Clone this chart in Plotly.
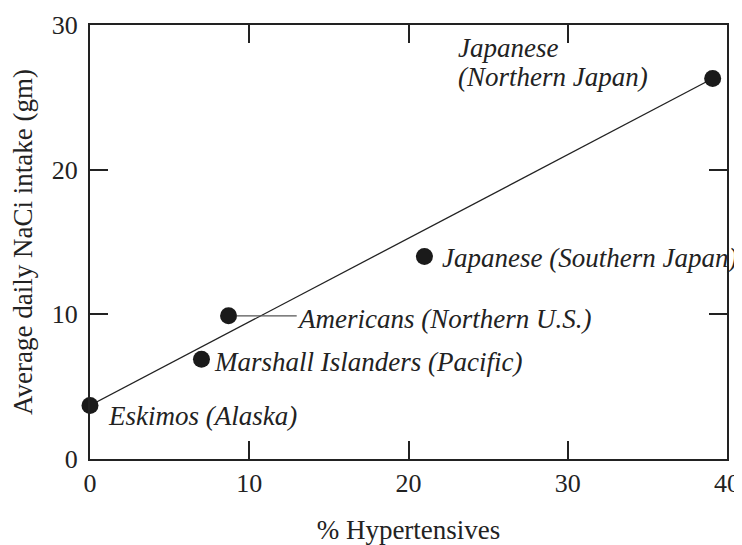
import plotly.graph_objects as go

# Data
groups = ["Eskimos (Alaska)", "Marshall Islanders (Pacific)", "Americans (Northern U.S.)",
          "Japanese (Southern Japan)", "Japanese<br>(Northern Japan)"]
pct_hypertensive = [0.0, 7.0, 8.7, 21.0, 39.1]
salt_intake = [3.7, 6.9, 9.9, 14.0, 26.3]

fit_x = [0.0, 39.1]
fit_y = [3.7, 26.3]

x_ticks = [0, 10, 20, 30, 40]
y_ticks = [0, 10, 20, 30]

# label anchors (data coords)
label_x = [1.0, 7.68, 12.88, 21.98, 23.0]
label_y = [3.0, 6.7, 9.65, 13.9, 27.4]

SERIF = "Liberation Serif"
INK = "#222222"
FS = 27

fig = go.Figure()
fig.add_trace(go.Scatter(x=fit_x, y=fit_y, mode="lines",
                         line=dict(color=INK, width=1.3), hoverinfo="skip", showlegend=False))
fig.add_trace(go.Scatter(x=pct_hypertensive, y=salt_intake, mode="markers",
                         marker=dict(color="#1a1a1a", size=17), showlegend=False,
                         cliponaxis=False))
# leader line for Americans
fig.add_trace(go.Scatter(x=[pct_hypertensive[2] + 0.5, label_x[2] + 0.1],
                         y=[salt_intake[2], salt_intake[2]], mode="lines",
                         line=dict(color="#555555", width=1.2), showlegend=False, hoverinfo="skip"))

for g, lx, ly in zip(groups, label_x, label_y):
    lines = g.split("<br>")
    n = len(lines)
    for i, ln in enumerate(lines):
        shift = ((n - 1) / 2 - i) * 29
        fig.add_annotation(x=lx, y=ly, text=ln, showarrow=False, xanchor="left", yanchor="middle",
                           align="left", yshift=shift,
                           font=dict(family=SERIF, size=FS, color=INK, style="italic"))

axis_common = dict(showline=True, linecolor=INK, linewidth=2, mirror="ticks",
                   ticks="inside", ticklen=18, tickwidth=2, tickcolor=INK,
                   showgrid=False, zeroline=False, automargin=False,
                   tickfont=dict(family=SERIF, size=26, color=INK))

fig.update_layout(
    width=734, height=537,
    margin=dict(l=82, r=15, t=17, b=86),
    plot_bgcolor="white", paper_bgcolor="white",
    font=dict(family=SERIF),
    xaxis=dict(range=[0, 40], tickvals=x_ticks, **axis_common,
               title=dict(text="% Hypertensives", font=dict(family=SERIF, size=FS, color=INK),
                          standoff=26)),
    yaxis=dict(range=[0, 30], tickvals=y_ticks, ticklabelstandoff=5, **axis_common,
               title=dict(text="Average daily NaCi intake (gm)",
                          font=dict(family=SERIF, size=FS, color=INK))),
)

fig.write_html("out.html")
